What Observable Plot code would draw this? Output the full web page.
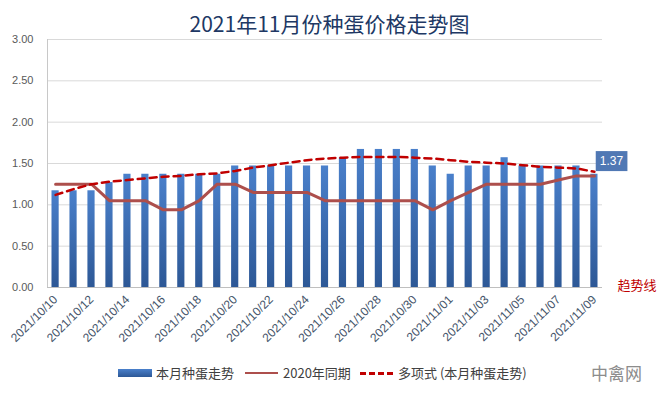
<!DOCTYPE html>
<html><head><meta charset="utf-8">
<script src="https://cdn.jsdelivr.net/npm/d3@7"></script>
<script src="https://cdn.jsdelivr.net/npm/@observablehq/plot@0.6"></script>
<style>
body{margin:0;background:#fff;}
#wrap{position:relative;width:659px;height:393px;overflow:hidden;font-family:"Liberation Sans","Noto Sans CJK SC",sans-serif;}
#title{position:absolute;left:0;top:10px;width:659px;text-align:center;font-family:"Noto Sans CJK SC",sans-serif;font-size:21px;line-height:26px;color:#203864;}
#chart{position:absolute;left:0;top:39px;}
#legend{position:absolute;left:0;top:362px;width:659px;height:22px;font-family:"Noto Sans CJK SC",sans-serif;font-size:13px;color:#404040;}
.item{position:absolute;top:0;line-height:22px;white-space:nowrap;}
.sw{position:absolute;}
</style></head>
<body>
<div id="wrap">
  <div id="title">2021年11月份种蛋价格走势图</div>
  <div id="chart"></div>
  <div id="legend">
    <div class="sw" style="left:118px;top:7px;width:34px;height:8px;background:linear-gradient(#4A80CB,#2D5896);"></div>
    <div class="item" style="left:156px;">本月种蛋走势</div>
    <div class="sw" style="left:245px;top:10px;width:33px;height:0;border-top:2px solid #AD4F4C;"></div>
    <div class="item" style="left:283px;">2020年同期</div>
    <div class="sw" style="left:360px;top:10px;width:33px;height:0;border-top:3px dashed #C00000;"></div>
    <div class="item" style="left:398px;">多项式 (本月种蛋走势)</div>
    <div class="item" style="left:591px;font-size:17px;color:#8C8C8C;">中禽网</div>
  </div>
</div>
<script>
const dates = ["2021/10/10","2021/10/11","2021/10/12","2021/10/13","2021/10/14","2021/10/15","2021/10/16","2021/10/17","2021/10/18","2021/10/19","2021/10/20","2021/10/21","2021/10/22","2021/10/23","2021/10/24","2021/10/25","2021/10/26","2021/10/27","2021/10/28","2021/10/29","2021/10/30","2021/10/31","2021/11/01","2021/11/02","2021/11/03","2021/11/04","2021/11/05","2021/11/06","2021/11/07","2021/11/08","2021/11/09"];
const price = [1.17,1.17,1.17,1.27,1.37,1.37,1.37,1.37,1.37,1.37,1.47,1.47,1.47,1.47,1.47,1.47,1.57,1.67,1.67,1.67,1.67,1.47,1.37,1.47,1.47,1.57,1.47,1.47,1.47,1.47,1.37];
const sameLastYear = [1.25,1.25,1.25,1.05,1.05,1.05,0.94,0.94,1.05,1.25,1.25,1.15,1.15,1.15,1.15,1.05,1.05,1.05,1.05,1.05,1.05,0.94,1.05,1.15,1.25,1.25,1.25,1.25,1.30,1.35,1.35];
const trend = [1.12,1.19,1.25,1.28,1.30,1.32,1.34,1.35,1.37,1.38,1.41,1.45,1.48,1.51,1.54,1.56,1.57,1.58,1.58,1.58,1.57,1.56,1.54,1.52,1.51,1.50,1.48,1.46,1.45,1.44,1.40];
const yTicks = [0,0.5,1,1.5,2,2.5,3];
const xTickIdx = [0,2,4,6,8,10,12,14,16,18,20,22,24,26,28,30];

const rows = dates.map((d,i)=>({i, date:d, price:price[i], last:sameLastYear[i], trend:trend[i]}));
const xDomain = [-0.45, dates.length - 0.55];

const chart = Plot.plot({
  width:659, height:318, marginTop:0, marginBottom:70, marginLeft:47, marginRight:57,
  style:{fontFamily:"'Liberation Sans', sans-serif", fontSize:"11px", overflow:"visible", background:"transparent"},
  x:{type:"linear", domain:xDomain, label:null},
  y:{domain:[0,3], label:null},
  marks:[
    Plot.gridY(yTicks.filter(t=>t>0), {stroke:"#D9D9D9", strokeOpacity:1}),
    Plot.ruleX([xDomain[0]], {stroke:"#C8C8C8"}),
    Plot.rectY(rows, {x1:d=>d.i-0.2, x2:d=>d.i+0.2, y:"price", fill:"url(#barGrad)"}),
    Plot.ruleY([0], {stroke:"#BFBFBF"}),
    Plot.line(rows, {x:"i", y:"last", stroke:"#AD4F4C", strokeWidth:3, strokeLinejoin:"round"}),
    Plot.line(rows, {x:"i", y:"trend", stroke:"#C00000", strokeWidth:2.5, strokeDasharray:"7,5"}),
    Plot.axisY(yTicks, {tickSize:0, tickPadding:14, tickFormat:d3.format(".2f"), color:"#595959", label:null, fontSize:11}),
    Plot.axisX(xTickIdx, {tickSize:0, tickPadding:10, tickRotate:-45, tickFormat:i=>dates[i], color:"#44546A", label:null, fontSize:12}),
    Plot.text([rows[rows.length-1]], {x:"i", y:"price", text:d=>d3.format(".2f")(d.price), dx:17, dy:-13, fill:"white", fontSize:12}),
    Plot.text(["趋势线"], {text:d=>d, frameAnchor:"bottom-right", textAnchor:"start", dx:15, dy:2, fill:"#C00000", fontSize:13, fontFamily:"'Noto Sans CJK SC', sans-serif"})
  ]
});

const ns = "http://www.w3.org/2000/svg";
const defs = document.createElementNS(ns, "defs");
defs.innerHTML = '<linearGradient id="barGrad" x1="0" y1="0" x2="0" y2="1"><stop offset="0" stop-color="#4A80CB"/><stop offset="1" stop-color="#2D5896"/></linearGradient>';
chart.insertBefore(defs, chart.firstChild);
document.getElementById("chart").appendChild(chart);

for (const t of chart.querySelectorAll("text")) {
  if (t.textContent === "1.37") {
    const b = t.getBBox();
    const r = document.createElementNS(ns, "rect");
    r.setAttribute("x", b.x - 4);
    r.setAttribute("y", b.y - 3);
    r.setAttribute("width", b.width + 8);
    r.setAttribute("height", b.height + 6);
    r.setAttribute("fill", "#5078B4");
    if (t.getAttribute("transform")) r.setAttribute("transform", t.getAttribute("transform"));
    t.parentNode.insertBefore(r, t);
  }
}
</script>
</body></html>
